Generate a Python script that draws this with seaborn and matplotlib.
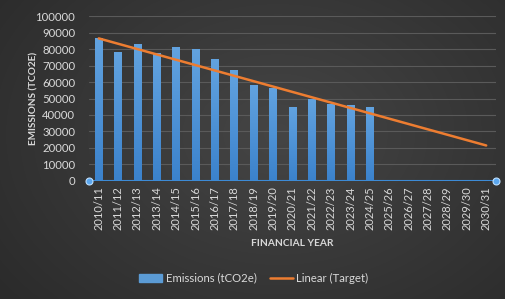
import numpy as np
import pandas as pd
import seaborn as sns
import matplotlib.pyplot as plt
from matplotlib.patches import Patch
from matplotlib.lines import Line2D

# data
years = ['2010/11', '2011/12', '2012/13', '2013/14', '2014/15', '2015/16', '2016/17',
         '2017/18', '2018/19', '2019/20', '2020/21', '2021/22', '2022/23', '2023/24',
         '2024/25', '2025/26', '2026/27', '2027/28', '2028/29', '2029/30', '2030/31']
emissions = [86500, 78500, 83000, 77500, 81500, 80000, 74000, 67300, 58000, 56500,
             45000, 49500, 46500, 45800, 44700]
target_years = ['2010/11', '2030/31']
target_vals = [86500, 21500]

txt = '#d9d9d9'
sns.set_theme(style='dark')
plt.rcParams['font.family'] = ['Lato', 'DejaVu Sans']

fig = plt.figure(figsize=(5.06, 2.99), dpi=100)

# background radial gradient
bg = fig.add_axes([0, 0, 1, 1], zorder=-10)
yy, xx = np.mgrid[0:1:300j, 0:1:500j]
r = np.sqrt((xx - 0.55) ** 2 + ((yy - 0.45) * 0.8) ** 2)
bg.imshow(r, cmap=plt.matplotlib.colors.LinearSegmentedColormap.from_list(
    'bg', ['#454545', '#2b2b2b']), aspect='auto', extent=[0, 1, 0, 1], vmin=0, vmax=0.7)
bg.axis('off')

ax = fig.add_axes([0.176, 0.395, 0.804, 0.551])
ax.patch.set_alpha(0)

df = pd.DataFrame({'year': years[:len(emissions)], 'emissions': emissions})
sns.barplot(data=df, x='year', y='emissions', order=years, color='#5b9bd5',
            width=0.4, saturation=1, ax=ax)

# vertical gradient on bars
grad = np.linspace(0, 1, 256).reshape(-1, 1)
cm = plt.matplotlib.colors.LinearSegmentedColormap.from_list('bar', ['#3b82cc', '#62a3e0'])
for p in list(ax.patches):
    x0, w, h = p.get_x(), p.get_width(), p.get_height()
    if np.isnan(h):
        continue
    im = ax.imshow(grad, cmap=cm, aspect='auto', origin='lower',
                   extent=[x0, x0 + w, 0, h], zorder=2)
    im.set_clip_path(p)
    p.set_alpha(0)

tx = [years.index(y) for y in target_years]
sns.lineplot(x=tx, y=target_vals, color='#ed7d31', lw=1.8, ax=ax, zorder=4)

ax.set_xlim(-0.5, len(years) - 0.5)
ax.set_ylim(0, 100000)
ax.set_yticks(range(0, 100001, 10000))
ax.grid(axis='y', color='#5a5a5a', lw=0.8)
ax.grid(axis='x', visible=False)
for s in ax.spines.values():
    s.set_visible(False)
ax.axhline(0, color='#3d8bd6', lw=1.5, zorder=5)
ax.plot([-0.5, len(years) - 0.5], [0, 0], 'o', ms=5, color='#5ba7ef',
        mec='#bfe0ff', mew=0.8, clip_on=False, zorder=6)

ax.tick_params(axis='y', colors=txt, labelsize=8.2, length=0, pad=10)
ax.tick_params(axis='x', colors=txt, labelsize=8, length=0, pad=4)
ax.set_xticks(range(len(years)))
ax.set_xticklabels(years, rotation=90)
ax.set_xlabel('FINANCIAL YEAR', color=txt, fontsize=7.3, fontweight='bold', labelpad=6)
ax.set_ylabel('EMISSIONS (TCO2E)', color=txt, fontsize=7.2, fontweight='bold')
ax.yaxis.set_label_coords(-0.125, 0.5)

handles = [Patch(color='#5b9bd5', label='Emissions (tCO2e)'),
           Line2D([], [], color='#ed7d31', lw=1.8, label='Linear (Target)')]
leg = fig.legend(handles=handles, loc='center', bbox_to_anchor=(0.502, 0.07), ncol=2,
                 frameon=False, fontsize=8.2, handlelength=2.0, columnspacing=1.2,
                 handletextpad=0.3)
for t in leg.get_texts():
    t.set_color(txt)

fig.savefig('out.png', dpi=100)
